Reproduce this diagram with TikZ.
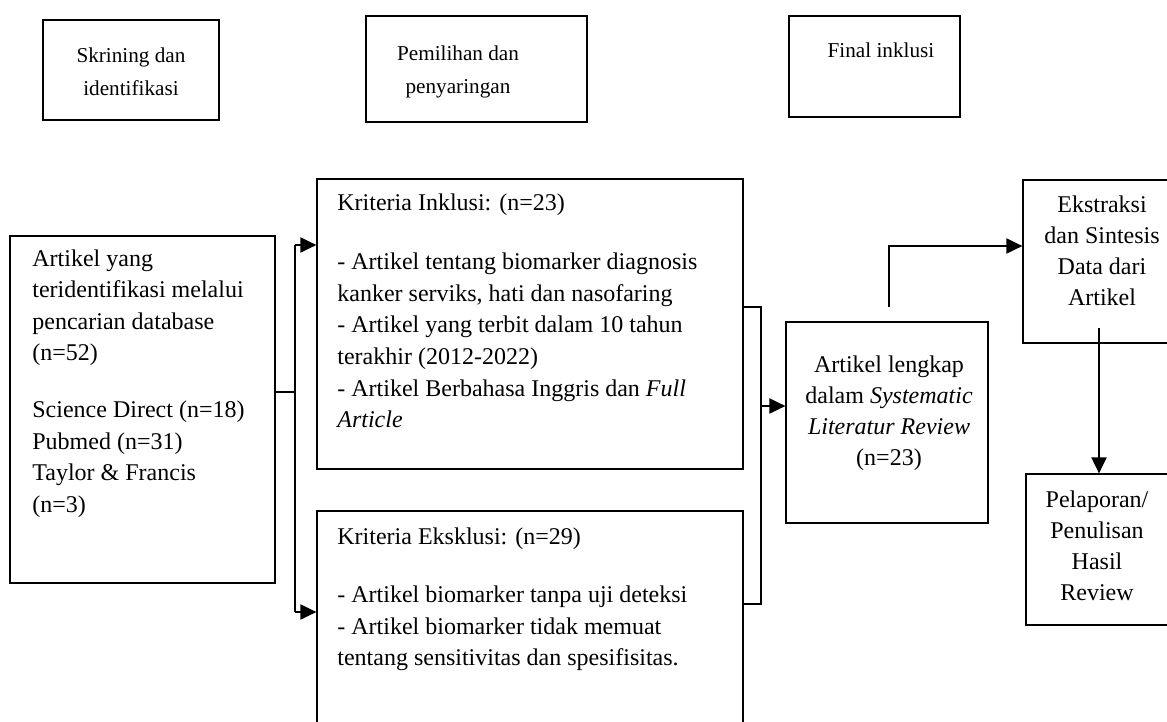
\documentclass[tikz,border=0pt]{standalone}
\usepackage{fontspec}
\setmainfont{Liberation Serif}
\usetikzlibrary{arrows.meta,fit}
\tikzset{
  box/.style={draw, rectangle, line width=0.6pt, inner sep=0pt},
  txt/.style={inner sep=0pt, align=left, font=\fontsize{12}{15.8}\selectfont},
  ctxt/.style={inner sep=0pt, align=center, font=\fontsize{12}{15.6}\selectfont},
  htxt/.style={inner sep=0pt, align=center, font=\fontsize{10.6}{16.5}\selectfont},
  conn/.style={line width=1pt},
  arr/.style={line width=1pt, -{Triangle[length=8pt,width=7.5pt]}}
}
\begin{document}
\begin{tikzpicture}[x=0.5pt,y=-0.5pt]
\useasboundingbox (0,0) rectangle (1167,722);
\clip (0,0) rectangle (1167,722);
% header boxes
\node[box, fit={(43,20) (219,120)}] (sk) {};
\node[htxt, anchor=north] (skt) at (131,47) {Skrining dan\\identifikasi};
\node[box, fit={(366,16) (587,122)}] (pem) {};
\node[htxt, anchor=north] (pemt) at (458,45) {Pemilihan dan\\penyaringan};
\node[box, fit={(789,16) (960,117)}] (fnl) {};
\node[htxt, anchor=north] (fnlt) at (881,42) {Final inklusi};
% main boxes
\node[box, fit={(10,236) (275,583)}] (b1) {};
\node[txt, anchor=north west] (b1t) at (32,249) {Artikel yang\\teridentifikasi melalui\\pencarian database\\(n=52)\\[12.5pt]Science Direct (n=18)\\Pubmed (n=31)\\Taylor \& Francis\\(n=3)};
\node[box, fit={(317,179) (743,469)}] (inc) {};
\node[txt, anchor=north west] (inct) at (337,193) {Kriteria Inklusi: (n=23)\\[14pt]- Artikel tentang biomarker diagnosis\\kanker serviks, hati dan nasofaring\\- Artikel yang terbit dalam 10 tahun\\terakhir (2012-2022)\\- Artikel Berbahasa Inggris dan \textit{Full}\\\textit{Article}};
\node[box, fit={(317,511) (743,740)}] (exc) {};
\node[txt, anchor=north west] (exct) at (337,527) {Kriteria Eksklusi: (n=29)\\[13.5pt]- Artikel biomarker tanpa uji deteksi\\- Artikel biomarker tidak memuat\\tentang sensitivitas dan spesifisitas.};
\node[box, fit={(786,322) (988,523)}] (fin) {};
\node[ctxt, anchor=north] (fint) at (889,355) {Artikel lengkap\\dalam \textit{Systematic}\\\textit{Literatur Review}\\(n=23)};
\node[box, fit={(1023,180) (1185,343)}] (ext) {};
\node[ctxt, anchor=north] (extt) at (1102,195) {Ekstraksi\\dan Sintesis\\Data dari\\Artikel};
\node[box, fit={(1026,474) (1170,625)}] (pel) {};
\node[ctxt, anchor=north] (pelt) at (1097,490) {Pelaporan/\\Penulisan\\Hasil\\Review};
% left bracket
\coordinate (j1) at (295,392);
\coordinate (j1t) at (295,245);
\coordinate (j1b) at (295,612);
\draw[conn] (b1.east |- j1) -- (j1);
\draw[conn] (j1t) -- (j1b);
\draw[arr] (j1t) -- (inc.west |- j1t);
\draw[arr] (j1b) -- (exc.west |- j1b);
% right bracket
\coordinate (j2t) at (761,307);
\coordinate (j2b) at (761,604);
\coordinate (j2) at (761,406);
\draw[conn] (inc.east |- j2t) -- (j2t) -- (j2b) -- (exc.east |- j2b);
\draw[arr] (j2) -- (fin.west |- j2);
% to extraction
\coordinate (u0) at (889,307);
\coordinate (u1) at (889,246);
\draw[arr] (u0) -- (u1) -- (ext.west |- u1);
% down to reporting
\coordinate (d0) at (1099,328);
\draw[arr] (d0) -- (d0 |- pel.north);
\end{tikzpicture}
\end{document}
